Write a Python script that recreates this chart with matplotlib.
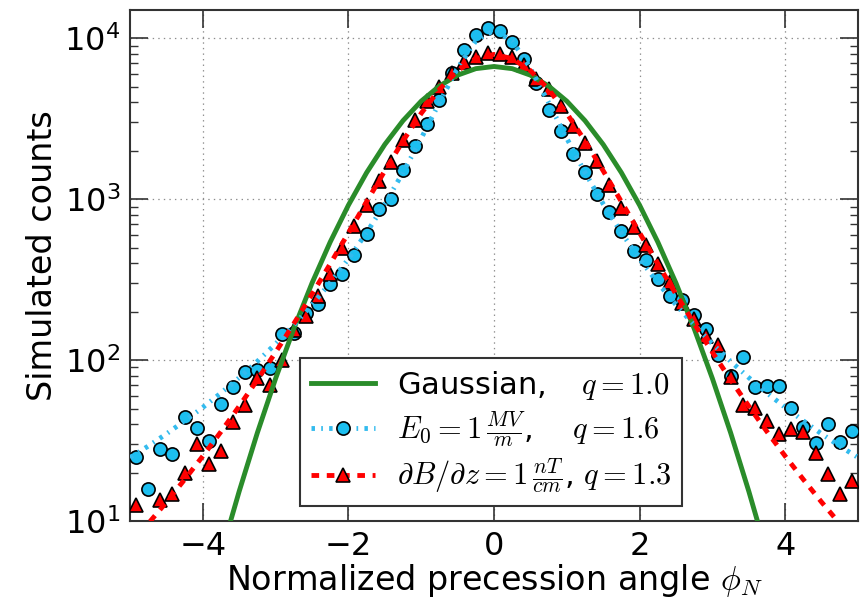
import matplotlib
matplotlib.use('Agg')
import matplotlib.pyplot as plt
from matplotlib.legend_handler import HandlerTuple

plt.rcParams['font.family'] = ['DejaVu Sans']
plt.rcParams['mathtext.fontset'] = 'cm'
plt.rcParams['lines.scale_dashes'] = False

# ---- data ----
bin_x = [-4.917, -4.750, -4.583, -4.417, -4.250, -4.083, -3.917, -3.750, -3.583, -3.417,
         -3.250, -3.083, -2.917, -2.750, -2.583, -2.417, -2.250, -2.083, -1.917, -1.750,
         -1.583, -1.417, -1.250, -1.083, -0.917, -0.750, -0.583, -0.417, -0.250, -0.083,
         0.083, 0.250, 0.417, 0.583, 0.750, 0.917, 1.083, 1.250, 1.417, 1.583,
         1.750, 1.917, 2.083, 2.250, 2.417, 2.583, 2.750, 2.917, 3.083, 3.250,
         3.417, 3.583, 3.750, 3.917, 4.083, 4.250, 4.417, 4.583, 4.750, 4.917]

counts_E = [25, 15.8, 27.9, 26.0, 44.6, 37.8, 31.6, 53.5, 68.5, 84.9,
            86.2, 89.2, 145, 148, 196, 222, 298, 345, 453, 610,
            866, 1005, 1530, 2130, 2940, 4140, 6110, 8420, 10440, 11530,
            11100, 9530, 7400, 5250, 3590, 2656, 1918, 1472, 1084, 830,
            632, 479, 421, 321, 251, 237, 191, 157, 108, 79.6,
            105, 67.9, 69.2, 69.2, 50.7, 38.6, 30.7, 40.0, 30.9, 36.5]

counts_B = [12.6, 8, 13.6, 14.7, 19.8, 30.3, 22.7, 27.4, 41.5, 52.4,
            77.6, 70.2, 100.5, 154, 189, 249, 345, 498, 682, 926,
            1300, 1709, 2340, 3100, 4070, 4990, 6100, 7100, 7710, 8090,
            7980, 7670, 6810, 5620, 4830, 3820, 2870, 2240, 1722, 1234,
            883, 673, 522, 398, 308, 226, 181, 141, 124, 78.4,
            52.7, 50.3, 42.1, 34.6, 37.2, 35.6, 26.4, 19.6, 14.7, 17.7]

fit_x = [-5.0, -4.75, -4.5, -4.25, -4.0, -3.75, -3.5, -3.25, -3.0, -2.75,
         -2.5, -2.25, -2.0, -1.75, -1.5, -1.25, -1.0, -0.75, -0.5, -0.25,
         0.0, 0.25, 0.5, 0.75, 1.0, 1.25, 1.5, 1.75, 2.0, 2.25,
         2.5, 2.75, 3.0, 3.25, 3.5, 3.75, 4.0, 4.25, 4.5, 4.75, 5.0]

fit_gauss = [0.027, 0.092, 0.29, 0.86, 2.38, 6.23, 15.3, 35.4, 76.8, 156.8,
             301, 542, 918, 1462, 2189, 3078, 4069, 5055, 5904, 6479,
             6683, 6479, 5904, 5055, 4069, 3078, 2189, 1462, 918, 542,
             301, 156.8, 76.8, 35.4, 15.3, 6.23, 2.38, 0.86, 0.29, 0.092, 0.027]

fit_E = [24.8, 29.2, 34.8, 41.9, 50.8, 62.5, 77.8, 98.3, 126.2, 165.1,
         220.7, 302.2, 425.8, 619.5, 934, 1466, 2388, 3987, 6540, 9637,
         11220, 9637, 6540, 3987, 2388, 1466, 934, 619.5, 425.8, 302.2,
         220.7, 165.1, 126.2, 98.3, 77.8, 62.5, 50.8, 41.9, 34.8, 29.2, 24.8]

fit_B = [7.14, 9.63, 13.1, 18.1, 25.3, 35.9, 51.7, 75.5, 111.9, 168.4,
         256.8, 396.3, 617.3, 965, 1502, 2302, 3417, 4815, 6300, 7482,
         7943, 7482, 6300, 4815, 3417, 2302, 1502, 965, 617.3, 396.3,
         256.8, 168.4, 111.9, 75.5, 51.7, 35.9, 25.3, 18.1, 13.1, 9.63, 7.14]

labels = [r'Gaussian,$\hspace{1.3}q=1.0$',
          r'$E_0=1\,\frac{MV}{m}$,$\hspace{1.45}q=1.6$',
          r'$\partial B/\partial z=1\,\frac{nT}{cm}$, $q=1.3$']

# ---- figure ----
fig = plt.figure(figsize=(8.6, 6), dpi=100)
ax = fig.add_axes([130/860, 79/600, 728/860, 511/600])

cyan = '#1CBFF0'
green = '#2a8c2a'

pc, = ax.plot(bin_x, counts_E, ls='none', marker='o', ms=9.5, mfc=cyan,
              mec='black', mew=1.2, zorder=3)
pt, = ax.plot(bin_x, counts_B, ls='none', marker='^', ms=10, mfc='red',
              mec='black', mew=1.2, zorder=4)
lg, = ax.plot(fit_x, fit_gauss, color=green, lw=3.5, zorder=5)
lc, = ax.plot(fit_x, fit_E, color='#33BBEE', lw=3.5,
              ls=(0, (2.5, 4.5, 1.2, 4.5)), zorder=5)
lr, = ax.plot(fit_x, fit_B, color='red', lw=3.5, ls=(0, (5.5, 5.5)), zorder=5)

ax.set_yscale('log')
ax.set_xlim(-5, 5)
ax.set_ylim(10, 1.5e4)

ax.grid(True, which='major', ls=(0, (1, 3)), color='0.55', lw=0.9)
ax.tick_params(which='both', direction='in', top=True, right=True,
               color='#333333')
ax.tick_params(which='major', length=13, width=1.2)
ax.tick_params(which='minor', length=6, width=1)
ax.tick_params(axis='x', labelsize=23, pad=7)
ax.tick_params(axis='y', labelsize=23, pad=7)
for s in ax.spines.values():
    s.set_color('#333333')
    s.set_linewidth(1.5)

ax.set_xlabel(r'Normalized precession angle $\phi_N$', fontsize=24, labelpad=0)
ax.set_ylabel('Simulated counts', fontsize=24)
ax.yaxis.set_label_coords(-0.098, 0.52)

leg = ax.legend([lg, (lc, pc), (lr, pt)], labels,
                handler_map={tuple: HandlerTuple(ndivide=1)},
                loc='lower center', bbox_to_anchor=(0.496, 0.029),
                borderaxespad=0, fontsize=22, numpoints=1,
                handlelength=2.1, handletextpad=0.7, borderpad=0.35,
                labelspacing=0.25, fancybox=False, framealpha=1,
                edgecolor='#333333')
leg.get_frame().set_linewidth(1.5)

fig.savefig('out.png', dpi=100)
